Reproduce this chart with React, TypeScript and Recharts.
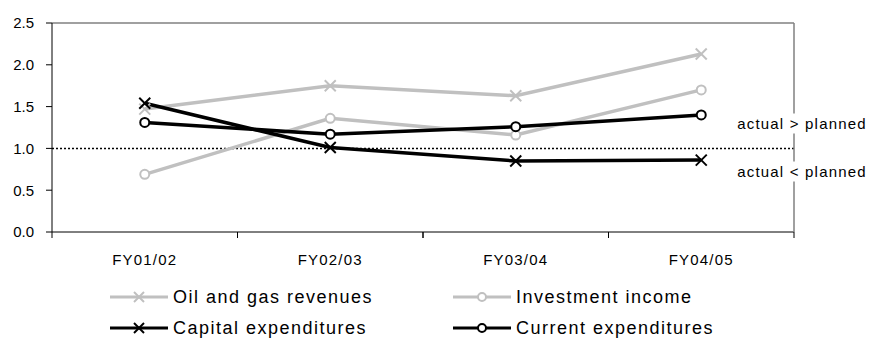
import React from 'react';
import { LineChart, Line, XAxis, YAxis, ReferenceLine } from 'recharts';

const categories = ['FY01/02', 'FY02/03', 'FY03/04', 'FY04/05'];
const oilGas = [1.47, 1.75, 1.63, 2.13];
const investment = [0.69, 1.36, 1.16, 1.70];
const capital = [1.54, 1.01, 0.85, 0.86];
const current = [1.31, 1.17, 1.26, 1.40];
const yTicks = [0, 0.5, 1.0, 1.5, 2.0, 2.5];
const seriesNames = ['Oil and gas revenues', 'Investment income', 'Capital expenditures', 'Current expenditures'];
const aboveLabel = 'actual > planned';
const belowLabel = 'actual < planned';

const data = categories.map((c, i) => ({
  cat: c,
  oil: oilGas[i],
  inv: investment[i],
  cap: capital[i],
  cur: current[i],
}));

const W = 871;
const H = 340;
const MARGIN = { top: 22, right: 76, left: 0, bottom: 78 };
const Y_W = 52;
const GRAY = '#c0c0c0';
const BORDER = '#808080';
const FONT = '"Liberation Sans", Arial, sans-serif';
const HALF_BAND = (W - MARGIN.right - 1 - Y_W) / categories.length / 2;

const CrossDot = (color: string) => (props: any) => {
  const { cx, cy } = props;
  if (cx == null || cy == null) return null;
  const s = 5.5;
  return (
    <g>
      <line x1={cx - s} y1={cy - s} x2={cx + s} y2={cy + s} stroke={color} strokeWidth={2} />
      <line x1={cx - s} y1={cy + s} x2={cx + s} y2={cy - s} stroke={color} strokeWidth={2} />
    </g>
  );
};

const CircleDot = (color: string) => (props: any) => {
  const { cx, cy } = props;
  if (cx == null || cy == null) return null;
  return <circle cx={cx} cy={cy} r={4.5} stroke={color} strokeWidth={2} fill="#fff" />;
};

const XTick = (props: any) => {
  const { x, y, payload } = props;
  return (
    <g>
      <line x1={x - HALF_BAND} x2={x - HALF_BAND} y1={y} y2={y + 6} stroke="#000" strokeWidth={1} />
      <line x1={x + HALF_BAND} x2={x + HALF_BAND} y1={y} y2={y + 6} stroke="#000" strokeWidth={1} />
      <text x={x} y={y + 33} textAnchor="middle" fontSize={15} fontFamily={FONT} letterSpacing={1.2} fill="#000">
        {payload.value}
      </text>
    </g>
  );
};

// Right border drawn along the right axis, interrupted where the two labels sit
const RightBorder = (props: any) => {
  const vb = props.viewBox || {};
  const x = vb.x;
  const y = vb.y;
  const height = vb.height;
  const yRef = y + height * (1 - 1 / 2.5);
  const gaps = [
    [yRef - 25 - 10, yRef - 25 + 10],
    [yRef + 23 - 10, yRef + 23 + 10],
  ];
  const segs: [number, number][] = [];
  let start = y;
  gaps.forEach(([a, b]) => {
    segs.push([start, a]);
    start = b;
  });
  segs.push([start, y + height]);
  return (
    <g>
      {segs.map(([a, b], i) => (
        <line key={i} x1={x} x2={x} y1={a} y2={b} stroke={BORDER} strokeWidth={1.5} />
      ))}
    </g>
  );
};

const RefLabel = (props: any) => {
  const { viewBox } = props;
  const cx = viewBox.x + viewBox.width + 8;
  const cy = viewBox.y;
  const txt = (t: string, yy: number) => (
    <text x={cx} y={yy} dy="0.355em" textAnchor="middle" fontSize={15} fontFamily={FONT} letterSpacing={1.2} fill="#000">
      {t}
    </text>
  );
  return (
    <g>
      {txt(aboveLabel, cy - 25)}
      {txt(belowLabel, cy + 23)}
    </g>
  );
};

const LegendIcon = ({ color, kind }: { color: string; kind: 'x' | 'o' }) => (
  <svg width={58} height={14} style={{ display: 'block' }}>
    <line x1={0} y1={7} x2={58} y2={7} stroke={color} strokeWidth={3} />
    {kind === 'x' ? (
      <g>
        <line x1={24} y1={2} x2={34} y2={12} stroke={color} strokeWidth={2} />
        <line x1={24} y1={12} x2={34} y2={2} stroke={color} strokeWidth={2} />
      </g>
    ) : (
      <circle cx={29} cy={7} r={4} stroke={color} strokeWidth={2} fill="#fff" />
    )}
  </svg>
);

const legendItems = [
  { name: seriesNames[0], color: GRAY, kind: 'x' as const, col: 0, row: 0 },
  { name: seriesNames[1], color: GRAY, kind: 'o' as const, col: 1, row: 0 },
  { name: seriesNames[2], color: '#000', kind: 'x' as const, col: 0, row: 1 },
  { name: seriesNames[3], color: '#000', kind: 'o' as const, col: 1, row: 1 },
];

export default function App() {
  return (
    <div style={{ position: 'absolute', left: 0, top: 0, width: W, height: H, background: '#fff' }}>
      <LineChart width={W} height={H} data={data} margin={MARGIN}>
        <XAxis
          dataKey="cat"
          scale="band"
          height={30}
          axisLine={{ stroke: '#000', strokeWidth: 1 }}
          tickLine={false}
          tickSize={0}
          tickMargin={0}
          tick={<XTick />}
          interval={0}
        />
        <XAxis
          xAxisId="top"
          dataKey="cat"
          scale="band"
          orientation="top"
          height={1}
          tick={false}
          tickLine={false}
          axisLine={{ stroke: BORDER, strokeWidth: 1.5 }}
        />
        <YAxis
          domain={[0, 2.5]}
          ticks={yTicks}
          width={Y_W}
          tickSize={6}
          tickMargin={12}
          tickFormatter={(v: number) => v.toFixed(1)}
          axisLine={{ stroke: '#000', strokeWidth: 1 }}
          tickLine={{ stroke: '#000' }}
          tick={{ fontSize: 15, fontFamily: FONT, fill: '#000' }}
          interval={0}
        />
        <YAxis
          yAxisId="right"
          orientation="right"
          domain={[0, 2.5]}
          width={1}
          tick={false}
          tickLine={false}
          axisLine={false}
          label={<RightBorder />}
        />
        <ReferenceLine y={1} stroke="#000" strokeWidth={1.5} strokeDasharray="2 2" label={<RefLabel />} />
        <Line
          dataKey="oil"
          xAxisId="top"
          yAxisId="right"
          stroke="none"
          dot={false}
          activeDot={false}
          legendType="none"
          isAnimationActive={false}
        />
        <Line dataKey="oil" stroke={GRAY} strokeWidth={3.5} dot={CrossDot(GRAY)} isAnimationActive={false} />
        <Line dataKey="inv" stroke={GRAY} strokeWidth={3.5} dot={CircleDot(GRAY)} isAnimationActive={false} />
        <Line dataKey="cap" stroke="#000" strokeWidth={3.5} dot={CrossDot('#000')} isAnimationActive={false} />
        <Line dataKey="cur" stroke="#000" strokeWidth={3.5} dot={CircleDot('#000')} isAnimationActive={false} />
      </LineChart>
      {legendItems.map((it) => (
        <div
          key={it.name}
          style={{
            position: 'absolute',
            left: it.col === 0 ? 110 : 453,
            top: 285 + it.row * 31,
            display: 'flex',
            alignItems: 'center',
            height: 24,
            fontFamily: FONT,
            fontSize: 18,
            letterSpacing: 1.5,
            whiteSpace: 'nowrap',
            color: '#000',
          }}
        >
          <LegendIcon color={it.color} kind={it.kind} />
          <span style={{ marginLeft: 5 }}>{it.name}</span>
        </div>
      ))}
    </div>
  );
}
